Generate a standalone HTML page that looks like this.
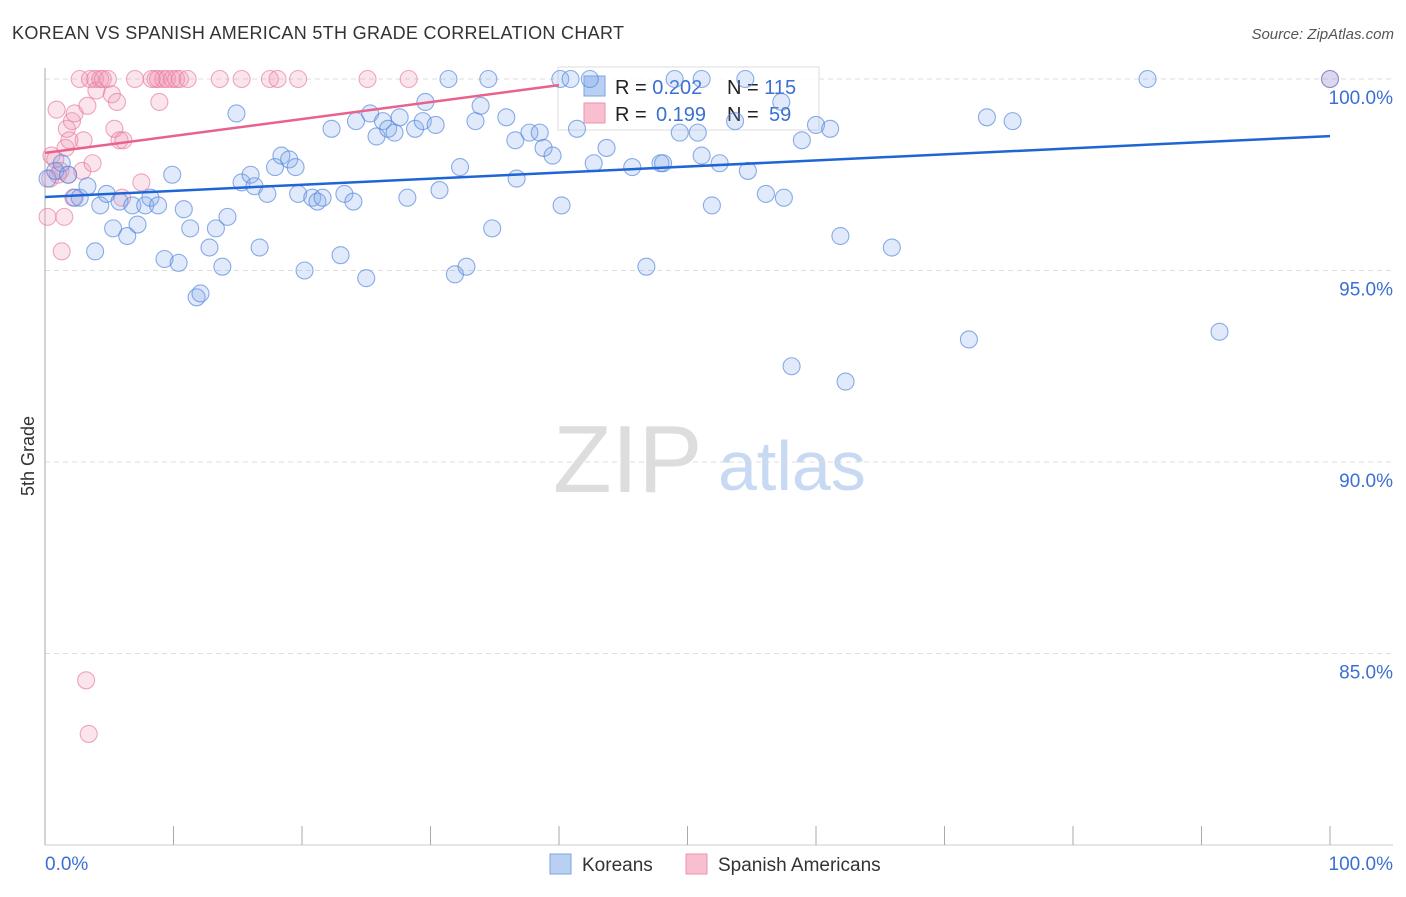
<!DOCTYPE html>
<html><head><meta charset="utf-8"><style>
body{margin:0;background:#fff;font-family:"Liberation Sans",sans-serif}
svg text{font-family:"Liberation Sans",sans-serif}
</style></head><body>
<svg id="chart" width="1406" height="892" xmlns="http://www.w3.org/2000/svg">
<text x="12" y="39" font-size="18" fill="#333" textLength="612">KOREAN VS SPANISH AMERICAN 5TH GRADE CORRELATION CHART</text>
<text x="1394" y="39" font-size="15" fill="#555" font-style="italic" text-anchor="end">Source: ZipAtlas.com</text>
<text transform="translate(34,456) rotate(-90)" font-size="18" fill="#333" text-anchor="middle">5th Grade</text>
<g>
<text x="553" y="492" font-size="96" font-family="Liberation Serif,serif" fill="#ddd">ZIP</text>
<text x="718" y="490" font-size="70" fill="#c8daf3">atlas</text>
</g>
<g id="grid"></g><g id="axes"></g>
<g>
<rect x="558" y="67" width="261" height="63" fill="rgba(255,255,255,0.85)" stroke="#ddd"/>
<rect x="584" y="76" width="21" height="20" fill="#b9d0f3" stroke="#7ca3e6"/>
<rect x="584" y="103" width="21" height="20" fill="#f7bfd0" stroke="#ee93b0"/>
<text x="615" y="94" font-size="20" fill="#222">R = <tspan fill="#3b6fd4">0.202</tspan></text>
<text x="727" y="94" font-size="20" fill="#222">N = <tspan fill="#3b6fd4">115</tspan></text>
<text x="615" y="121" font-size="20" fill="#222">R = <tspan fill="#3b6fd4" x="656">0.199</tspan></text>
<text x="727" y="121" font-size="20" fill="#222">N = <tspan fill="#3b6fd4" x="769">59</tspan></text>
</g>
<g id="marks"></g>
<g>
<rect x="550" y="854" width="21" height="20" fill="#b9d0f3" stroke="#7ca3e6"/>
<text x="582" y="871" font-size="19" fill="#333">Koreans</text>
<rect x="686" y="854" width="21" height="20" fill="#f7bfd0" stroke="#ee93b0"/>
<text x="718" y="871" font-size="19" fill="#333">Spanish Americans</text>
</g>
</svg>
<script>
const yTicks=[100,95,90,85];
const yTickLabels=["100.0%","95.0%","90.0%","85.0%"];
const xEdgeLabels=["0.0%","100.0%"];
const koreansX=[0.2,0.8,1.3,1.8,2.3,2.7,3.3,3.9,4.3,4.8,5.3,5.8,6.4,6.8,7.2,7.8,8.2,8.8,9.3,9.9,10.4,10.8,11.3,11.8,12.1,12.8,13.3,13.8,14.2,14.9,15.3,16.0,16.3,16.7,17.3,17.9,18.4,19.0,19.5,19.7,20.2,20.8,21.2,21.6,22.3,23.0,23.3,24.0,24.2,25.0,25.3,25.8,26.3,26.7,27.2,27.6,28.2,28.8,29.6,29.4,30.4,30.7,31.4,31.9,32.3,32.8,33.5,33.9,34.5,34.8,35.9,36.6,36.7,37.7,38.5,38.8,39.5,40.1,40.2,40.9,41.4,42.7,43.7,45.7,46.8,47.9,48.1,49.4,50.8,51.1,51.9,52.5,53.7,54.5,54.7,56.1,57.3,57.5,58.1,58.9,60.0,61.1,61.9,62.3,65.9,71.9,73.3,75.3,85.8,91.4,100,51.1,49.0,42.4];
const koreansY=[97.4,97.6,97.8,97.5,96.9,96.9,97.2,95.5,96.7,97.0,96.1,96.8,95.9,96.7,96.2,96.7,96.9,96.7,95.3,97.5,95.2,96.6,96.1,94.3,94.4,95.6,96.1,95.1,96.4,99.1,97.3,97.5,97.2,95.6,97.0,97.7,98.0,97.9,97.7,97.0,95.0,96.9,96.8,96.9,98.7,95.4,97.0,96.8,98.9,94.8,99.1,98.5,98.9,98.7,98.6,99.0,96.9,98.7,99.4,98.9,98.8,97.1,100,94.9,97.7,95.1,98.9,99.3,100,96.1,99.0,98.4,97.4,98.6,98.6,98.2,98.0,100,96.7,100,98.7,97.8,98.2,97.7,95.1,97.8,97.8,98.6,98.6,98.0,96.7,97.8,98.9,100,97.6,97.0,99.4,96.9,92.5,98.4,98.8,98.7,95.9,92.1,95.6,93.2,99.0,98.9,100,93.4,100,100,100,100];
const spanishX=[0.2,0.4,0.5,0.8,0.9,1.2,1.3,1.5,1.6,1.7,1.9,2.1,2.2,2.3,2.7,2.9,3.0,3.3,3.5,3.7,3.9,4.0,4.3,4.5,4.9,5.2,5.4,5.6,5.8,6.0,6.1,7.0,7.5,8.6,8.8,8.9,9.2,9.5,9.9,10.2,10.5,11.1,13.6,15.3,17.5,18.1,19.7,25.1,28.3,3.2,3.4,1.8,1.0,8.3,100];
const spanishY=[96.4,97.4,98.0,97.9,99.2,97.6,95.5,96.4,98.2,98.7,98.4,98.9,96.9,99.1,100,97.6,98.4,99.3,100,97.8,100,99.7,100,100,100,99.6,98.7,99.4,98.4,96.9,98.4,100,97.3,100,100,99.4,100,100,100,100,100,100,100,100,100,100,100,100,100,84.3,82.9,97.5,97.5,100,100];
const koreanTrend=[96.92,98.51];
const spanishTrend=[98.07,99.84];
const spanishTrendEnd=40;

const NS="http://www.w3.org/2000/svg";
const X0=45,X1=1330,Y100=79,PXPER=38.3;
const xs=v=>X0+(X1-X0)*v/100;
const ys=v=>Y100+(100-v)*PXPER;
function mk(tag,attrs,parent){const e=document.createElementNS(NS,tag);for(const k in attrs)e.setAttribute(k,attrs[k]);parent.appendChild(e);return e;}
const grid=document.getElementById('grid'),axes=document.getElementById('axes'),marks=document.getElementById('marks');
yTicks.forEach((t,i)=>{
 const l=mk('line',{x1:X0,x2:1393,y1:ys(t),y2:ys(t),stroke:'#ddd','stroke-dasharray':'5,4'},grid);
 
 
 const tx=mk('text',{x:1393,y:ys(t)+25,'font-size':19,fill:'#3b6fd4','text-anchor':'end'},axes);
 tx.textContent=yTickLabels[i];
 
 
});
const la=mk('line',{x1:X0,x2:X0,y1:68,y2:845,stroke:'#aaa'},axes);


const ba=mk('line',{x1:X0,x2:1393,y1:845,y2:845,stroke:'#ccc'},axes);


for(let p=0;p<=100;p+=10){
 const t=mk('line',{x1:xs(p),x2:xs(p),y1:826,y2:845,stroke:'#aaa'},axes);
 
 
}
const xl0=mk('text',{x:45,y:870,'font-size':19,fill:'#3b6fd4'},axes);xl0.textContent=xEdgeLabels[0];


const xl1=mk('text',{x:1393,y:870,'font-size':19,fill:'#3b6fd4','text-anchor':'end'},axes);xl1.textContent=xEdgeLabels[1];


spanishX.forEach((x,i)=>{
 const c=mk('circle',{cx:xs(x),cy:ys(spanishY[i]),r:8.5,fill:'rgba(240,150,180,0.25)',stroke:'rgba(232,120,160,0.65)','stroke-width':1.1},marks);
 
 
});
koreansX.forEach((x,i)=>{
 const c=mk('circle',{cx:xs(x),cy:ys(koreansY[i]),r:8.5,fill:'rgba(130,170,235,0.25)',stroke:'rgba(80,130,220,0.65)','stroke-width':1.1},marks);
 
 
});
const kt=mk('line',{x1:xs(0),y1:ys(koreanTrend[0]),x2:xs(100),y2:ys(koreanTrend[1]),stroke:'#1f65d6','stroke-width':2.5},marks);


const st=mk('line',{x1:xs(0),y1:ys(spanishTrend[0]),x2:xs(spanishTrendEnd),y2:ys(spanishTrend[1]),stroke:'#e8628c','stroke-width':2.5},marks);


</script>
</body></html>
